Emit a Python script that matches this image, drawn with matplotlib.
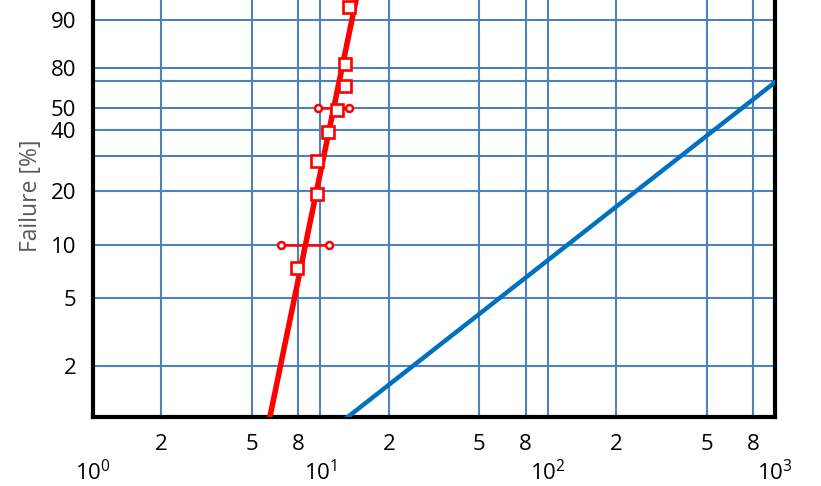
import numpy as np
import matplotlib
matplotlib.use('Agg')
import matplotlib.pyplot as plt
from matplotlib.ticker import FixedLocator, FixedFormatter

# failure probability plot (Weibull paper)
# measured points (x value, failure %)
test_x = [7.90, 9.67, 9.67, 10.81, 11.84, 12.84, 12.84, 13.37]
test_f = [7.4, 19.3, 28.6, 39.1, 48.8, 60.5, 71.6, 93.6]

# fitted lines, end points
red_fit_x = [6.0, 15.3]
red_fit_f = [1.0, 99.0]
blue_fit_x = [13.2, 1000.0]
blue_fit_f = [1.0, 62.6]

# confidence bars at 10% and 50%
ci10_x = [6.72, 10.92]
ci10_f = [10, 10]
ci50_x = [9.77, 13.37]
ci50_f = [50, 50]

# grid / tick values
y_grid = [2, 5, 10, 20, 30, 40, 50, 63.2, 70, 90]
y_labels = ['2', '5', '10', '20', '', '40', '50', '', '80', '90']
x_major = [1, 10, 100, 1000]
x_major_labels = [r'$\mathregular{10^{0}}$', r'$\mathregular{10^{1}}$',
                  r'$\mathregular{10^{2}}$', r'$\mathregular{10^{3}}$']
x_minor = [2, 5, 8, 20, 50, 80, 200, 500, 800]
x_minor_labels = ['2', '5', '8', '2', '5', '8', '2', '5', '8']


def weib(f):
    f = np.clip(np.asarray(f, dtype=float), 1e-6, 99.9999)
    return np.log(-np.log(1 - f / 100.0))


def weib_inv(w):
    return 100.0 * (1 - np.exp(-np.exp(np.asarray(w, dtype=float))))


plt.rcParams['font.family'] = ['Open Sans', 'DejaVu Sans']

fig = plt.figure(figsize=(8.21, 4.86), dpi=100)
ax = fig.add_axes([93 / 821, 69 / 486, (775 - 93) / 821, 417 / 486])

ax.set_xscale('log')
ax.set_yscale('function', functions=(weib, weib_inv))
ax.set_xlim(1, 1000)
ax.set_ylim(1, 95.2)

gridc = '#4F81BD'
for v in x_minor + x_major[1:3]:
    ax.axvline(v, color=gridc, lw=1.5, zorder=1)
for v in y_grid:
    ax.axhline(v, color=gridc, lw=1.5, zorder=1)

ax.plot(blue_fit_x, blue_fit_f, color='#0070C0', lw=3.2, zorder=3)
ax.plot(red_fit_x, red_fit_f, color='#FF0000', lw=4, zorder=3)
ax.plot(ci10_x, ci10_f, color='#FF0000', lw=1.8, marker='o', ms=5,
        mfc='white', mec='#FF0000', mew=1.8, zorder=4)
ax.plot(ci50_x, ci50_f, color='#FF0000', lw=1.8, marker='o', ms=5,
        mfc='white', mec='#FF0000', mew=1.8, zorder=4)
ax.plot(test_x, test_f, ls='none', marker='s', ms=8.5, mfc='white',
        mec='#FF0000', mew=1.9, zorder=5)

ax.xaxis.set_major_locator(FixedLocator(x_major))
ax.xaxis.set_major_formatter(FixedFormatter(x_major_labels))
ax.xaxis.set_minor_locator(FixedLocator(x_minor))
ax.xaxis.set_minor_formatter(FixedFormatter(x_minor_labels))
ax.yaxis.set_major_locator(FixedLocator(y_grid))
ax.yaxis.set_major_formatter(FixedFormatter(y_labels))
ax.yaxis.set_minor_locator(FixedLocator([]))

ax.tick_params(axis='x', which='minor', length=0, pad=12, labelsize=16)
ax.tick_params(axis='x', which='major', length=0, pad=31, labelsize=16)
ax.tick_params(axis='y', length=0, pad=12, labelsize=16)

for s in ['left', 'bottom', 'right']:
    ax.spines[s].set_linewidth(3)
    ax.spines[s].set_color('black')
ax.spines['top'].set_visible(False)

ax.set_ylabel('Failure [%]', color='#595959', fontsize=16.5)
ax.yaxis.set_label_coords(-0.074, 0.53)

fig.savefig('out.png', dpi=100)
